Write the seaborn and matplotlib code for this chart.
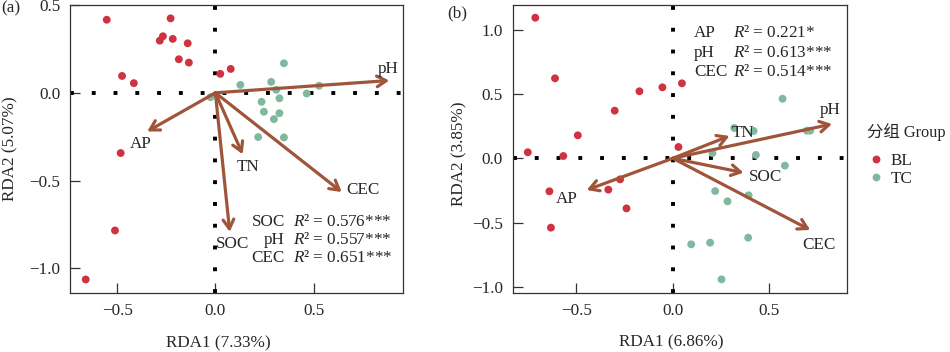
import numpy as np
import pandas as pd
import matplotlib
matplotlib.use("Agg")
import matplotlib.pyplot as plt
import seaborn as sns

# ---------------- data ----------------
groups = ["BL", "TC"]
palette = {"BL": "#D1323F", "TC": "#80B89E"}

# Panel (a) site scores
a_bl_x = [-0.553, -0.228, -0.283, -0.267, -0.217, -0.141, -0.186, -0.135, -0.475, -0.415, 0.025, 0.078, -0.482, -0.511, -0.660]
a_bl_y = [0.416, 0.424, 0.297, 0.322, 0.307, 0.282, 0.191, 0.172, 0.096, 0.055, 0.108, 0.136, -0.343, -0.784, -1.063]
a_tc_x = [-0.025, 0.127, 0.284, 0.349, 0.310, 0.235, 0.326, 0.247, 0.326, 0.298, 0.218, 0.349, 0.465, 0.528]
a_tc_y = [-0.025, 0.045, 0.062, 0.168, 0.017, -0.051, -0.031, -0.108, -0.116, -0.150, -0.252, -0.254, -0.004, 0.040]

# Panel (a) environmental vectors
a_vars = ["pH", "AP", "TN", "CEC", "SOC"]
a_vec_x = [0.885, -0.347, 0.139, 0.643, 0.073]
a_vec_y = [0.070, -0.220, -0.350, -0.565, -0.792]
a_lab_x = [0.880, -0.380, 0.165, 0.750, 0.090]
a_lab_y = [0.137, -0.290, -0.420, -0.555, -0.860]

a_stat_vars = ["SOC", "pH", "CEC"]
a_stat_r2 = ["0.576***", "0.557***", "0.651***"]

# Panel (b) site scores
b_bl_x = [-0.712, -0.610, -0.173, -0.054, 0.047, -0.301, -0.492, -0.751, -0.567, 0.029, -0.273, -0.334, -0.639, -0.240, -0.631]
b_bl_y = [1.095, 0.623, 0.522, 0.553, 0.584, 0.371, 0.179, 0.047, 0.018, 0.088, -0.164, -0.244, -0.257, -0.390, -0.540]
b_tc_x = [0.568, 0.318, 0.418, 0.694, 0.711, 0.205, 0.430, 0.580, 0.219, 0.283, 0.392, 0.095, 0.193, 0.390, 0.252]
b_tc_y = [0.464, 0.236, 0.213, 0.215, 0.215, 0.041, 0.026, -0.057, -0.255, -0.335, -0.288, -0.670, -0.657, -0.618, -0.943]

b_vars = ["pH", "TN", "SOC", "CEC", "AP"]
b_vec_x = [0.824, 0.293, 0.366, 0.711, -0.446]
b_vec_y = [0.267, 0.174, -0.112, -0.558, -0.247]
b_lab_x = [0.815, 0.366, 0.478, 0.754, -0.550]
b_lab_y = [0.376, 0.200, -0.143, -0.675, -0.320]

b_stat_vars = ["AP", "pH", "CEC"]
b_stat_r2 = ["0.221*", "0.613***", "0.514***"]

a_xlabel, a_ylabel = "RDA1 (7.33%)", "RDA2 (5.07%)"
b_xlabel, b_ylabel = "RDA1 (6.86%)", "RDA2 (3.85%)"

# ---------------- style ----------------
sns.set_style("ticks")
plt.rcParams["font.family"] = ["Liberation Serif", "Noto Sans CJK SC"]
plt.rcParams["mathtext.fontset"] = "custom"
plt.rcParams["mathtext.rm"] = "Liberation Serif"
plt.rcParams["mathtext.it"] = "Liberation Serif:italic"
plt.rcParams["font.size"] = 12

arrow_col = "#A0553A"
fs = 12.3

fig = plt.figure(figsize=(9.5, 3.52), dpi=100)
axa = fig.add_axes([70 / 950, 1 - 293 / 352, 333 / 950, 288 / 352])
axb = fig.add_axes([512.7 / 950, 1 - 293 / 352, 334 / 950, 288 / 352])


def make_df(bx, by, tx, ty):
    return pd.DataFrame({
        "RDA1": list(bx) + list(tx),
        "RDA2": list(by) + list(ty),
        "Group": ["BL"] * len(bx) + ["TC"] * len(tx),
    })


def draw_panel(ax, df, vx, vy, lx, ly, names, xlim, ylim, xticks, yticks, legend):
    ax.axhline(0, color="black", lw=2.8, linestyle=(0, (1, 4.6)),
               dash_capstyle="butt", zorder=1)
    ax.axvline(0, color="black", lw=2.8, linestyle=(0, (1, 4.6)),
               dash_capstyle="butt", zorder=1)
    sns.scatterplot(data=df, x="RDA1", y="RDA2", hue="Group", hue_order=groups,
                    palette=palette, s=32, linewidth=0, ax=ax, legend=legend,
                    zorder=2)
    for x, y, tx, ty, n in zip(vx, vy, lx, ly, names):
        ax.annotate("", xy=(x, y), xytext=(0, 0),
                    arrowprops=dict(arrowstyle="->,head_length=0.55,head_width=0.32",
                                    lw=2.3, color=arrow_col, shrinkA=0, shrinkB=0),
                    zorder=3)
        ax.text(tx, ty, n, ha="center", va="center", fontsize=fs, zorder=4)
    ax.set_xlim(*xlim)
    ax.set_ylim(*ylim)
    ax.set_xticks(xticks)
    ax.set_yticks(yticks)
    ax.tick_params(direction="in", length=7, width=0.9, color="#333333",
                   labelsize=fs)
    ax.tick_params(axis="x", pad=7)
    ax.tick_params(axis="y", pad=7)
    for sp in ax.spines.values():
        sp.set_color("#333333")
        sp.set_linewidth(0.9)
        sp.set_visible(True)


dfa = make_df(a_bl_x, a_bl_y, a_tc_x, a_tc_y)
dfb = make_df(b_bl_x, b_bl_y, b_tc_x, b_tc_y)

draw_panel(axa, dfa, a_vec_x, a_vec_y, a_lab_x, a_lab_y, a_vars,
           (-0.74, 0.955), (-1.14, 0.50), [-0.5, 0.0, 0.5], [-1.0, -0.5, 0.0, 0.5], False)
draw_panel(axb, dfb, b_vec_x, b_vec_y, b_lab_x, b_lab_y, b_vars,
           (-0.829, 0.90), (-1.049, 1.194), [-0.5, 0.0, 0.5], [-1.0, -0.5, 0.0, 0.5, 1.0], True)

axa.set_xlabel(a_xlabel, fontsize=fs)
axa.set_ylabel(a_ylabel, fontsize=fs)
axb.set_xlabel(b_xlabel, fontsize=fs)
axb.set_ylabel(b_ylabel, fontsize=fs)
axa.xaxis.set_label_coords(0.444, -0.148)
axb.xaxis.set_label_coords(0.475, -0.143)
axa.yaxis.set_label_coords(-0.155, 0.5)
axb.yaxis.set_label_coords(-0.137, 0.483)

# statistics text
a_stat_y = [-0.735, -0.839, -0.941]
for n, r, y in zip(a_stat_vars, a_stat_r2, a_stat_y):
    axa.text(0.355, y, n, ha="right", va="center", fontsize=fs)
    axa.text(0.396, y, "$R$² = " + r, ha="left", va="center", fontsize=fs)

b_stat_y = [0.973, 0.818, 0.674]
for n, r, y in zip(b_stat_vars, b_stat_r2, b_stat_y):
    axb.text(0.11, y, n, ha="left", va="center", fontsize=fs)
    axb.text(0.313, y, "$R$² = " + r, ha="left", va="center", fontsize=fs)

fig.text(0.001, 1 - 8.5 / 352, "(a)", ha="left", va="center", fontsize=fs)
fig.text(447 / 950, 1 - 13.5 / 352, "(b)", ha="left", va="center", fontsize=fs)

sns.move_legend(axb, "upper left", bbox_to_anchor=(867 / 950, 1 - 123 / 352),
                bbox_transform=fig.transFigure, frameon=False, title="分组 Group",
                fontsize=fs, title_fontsize=11.8, borderpad=0, borderaxespad=0,
                handletextpad=0.4, handlelength=1.0, labelspacing=0.1,
                markerscale=1.0)
leg = axb.get_legend()
leg._legend_box.align = "left"
leg._legend_box.sep = 9

fig.savefig("out.png", dpi=100)
